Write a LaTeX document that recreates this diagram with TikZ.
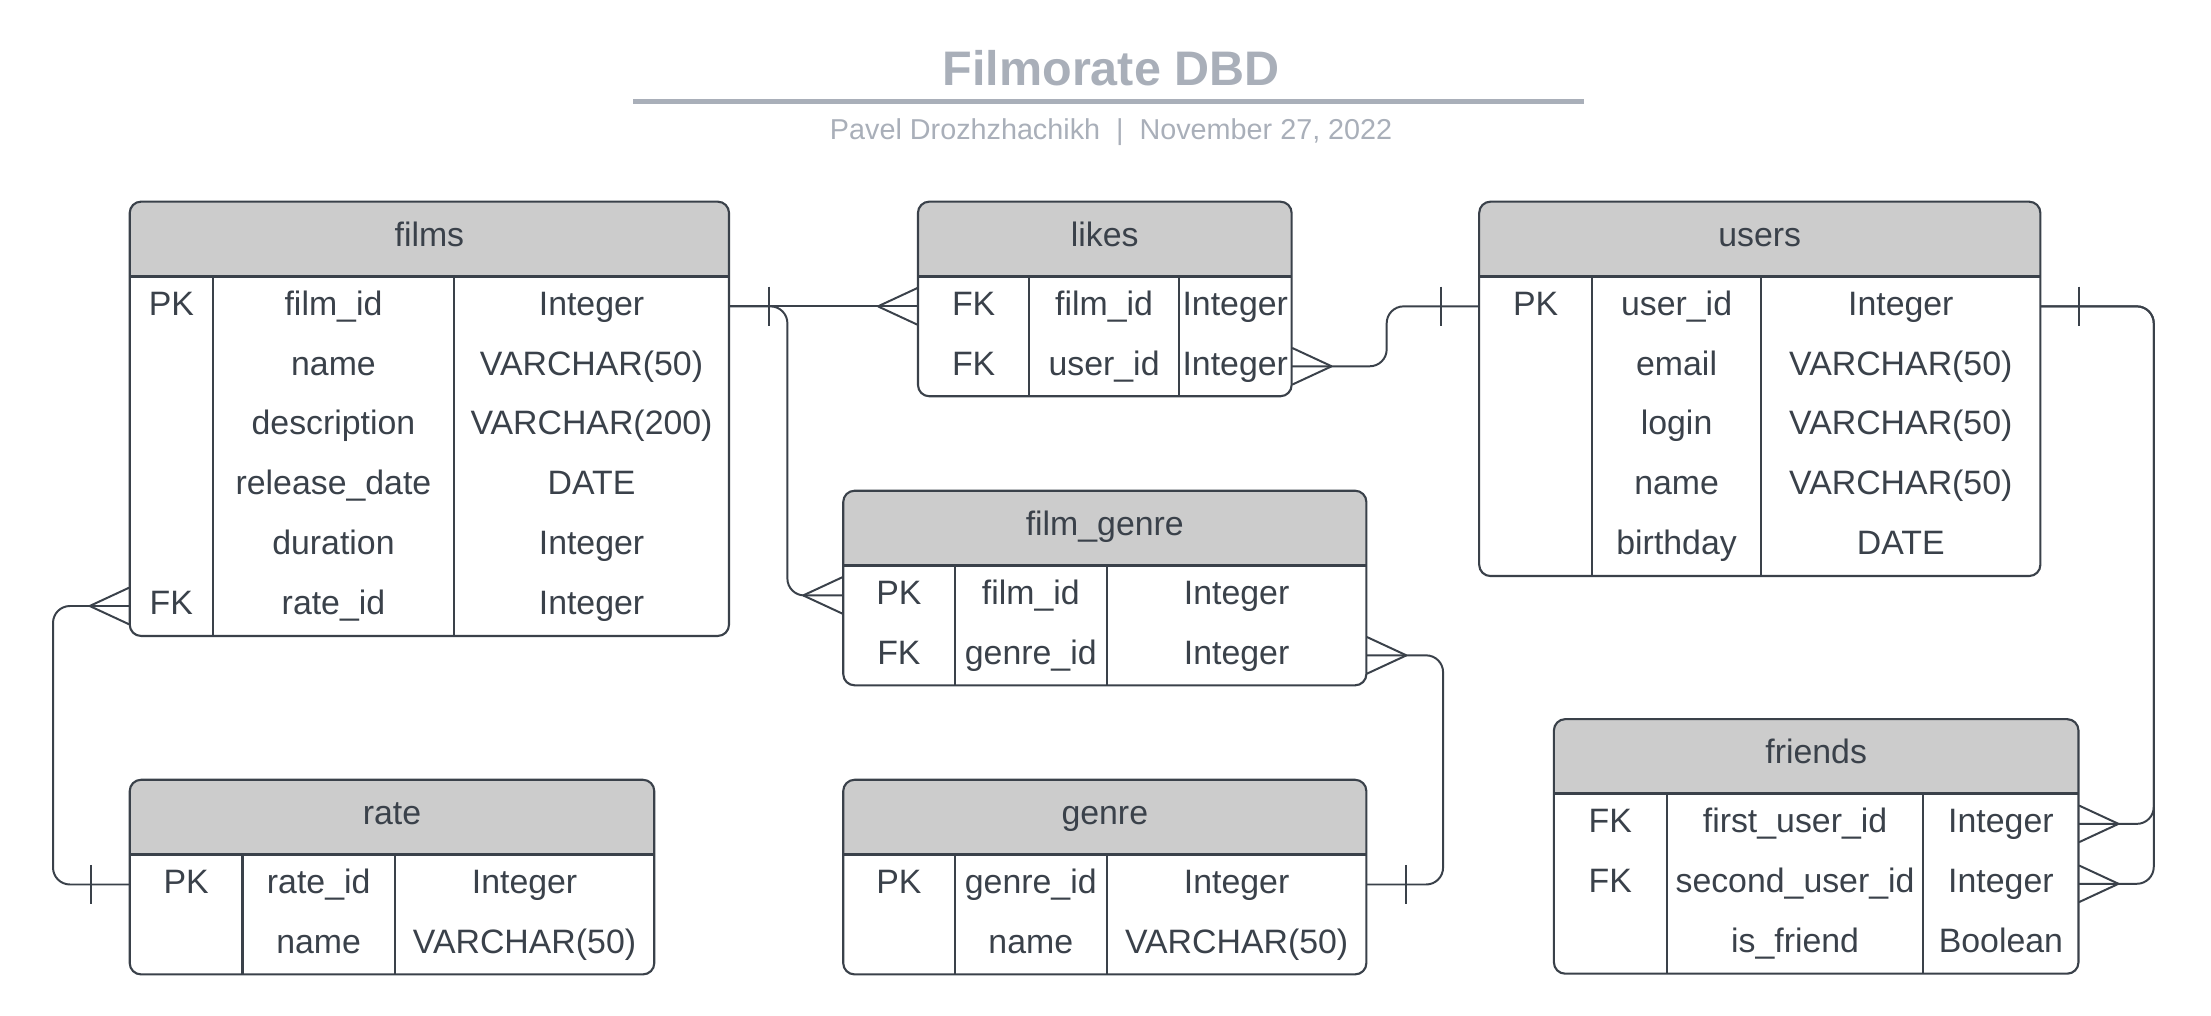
\documentclass[tikz,border=0pt]{standalone}
\usepackage{fontspec}
\setmainfont{Liberation Sans}
\definecolor{ink}{HTML}{3A414A}
\definecolor{hdrgray}{HTML}{CCCCCC}
\definecolor{titlegray}{HTML}{A9AFB9}
\begin{document}
\begin{tikzpicture}[x=0.5pt,y=-0.5pt,
        tbl/.style={draw=ink,line width=0.75pt},
        cell/.style={inner sep=0pt,text=ink,font=\fontsize{12}{14}\selectfont,text height=8.6pt,text depth=2.4pt},
        rowbox/.style={inner sep=0pt,minimum height=21.25pt},
        link/.style={draw=ink,line width=0.7pt,rounded corners=6pt}]
        \useasboundingbox (0,0) rectangle (1568,720);
        % title block
        \node[font=\fontsize{17.2}{20}\selectfont\bfseries,text=titlegray] (title) at (788,48) {Filmorate DBD};
        \draw[titlegray,line width=1.5pt] (449,72) -- (1123,72);
        \node[font=\fontsize{10.2}{12}\selectfont,text=titlegray] (byline) at (788,94) {Pavel Drozhzhachikh\ \ |\ \ November 27, 2022};
        % tables: name / left / col1 / col2 / right / top / rows / title
        \foreach \tb/\xa/\xb/\xc/\xd/\yt/\nr/\ttl in {films/92/151/322/517/143/6/films,
                likes/651/730/836/916/143/2/likes,
                users/1049/1129/1249/1447/143/5/users,
                fgenre/598/677/785/969/348/2/film\_genre,
                rate/92/172/280/464/553/2/rate,
                genre/598/677/785/969/553/2/genre,
                friends/1102/1182/1364/1474/510/3/friends}{
            \pgfmathsetmacro\yh{\yt+53}
            \pgfmathsetmacro\yb{\yh+42.5*\nr}
            \begin{scope}
                \clip (\xa,\yt) rectangle (\xd,\yh);
                \fill[hdrgray,rounded corners=4pt] (\xa,\yt) rectangle (\xd,\yb);
            \end{scope}
            \node[cell] (\tb) at ({(\xa+\xd)/2},{\yt+25.5}) {\ttl};
            \draw[tbl,rounded corners=4pt] (\xa,\yt) rectangle (\xd,\yb);
            \draw[tbl,line width=1pt] (\xa,\yh) -- (\xd,\yh);
            \draw[tbl] (\xb,\yh) -- (\xb,\yb) (\xc,\yh) -- (\xc,\yb);
            \coordinate (\tb-c1) at ({(\xa+\xb)/2},\yh);
            \coordinate (\tb-c2) at ({(\xb+\xc)/2},\yh);
            \coordinate (\tb-c3) at ({(\xc+\xd)/2},\yh);
            \foreach \rw in {1,...,\nr}
                \node[rowbox,minimum width={(\xd-\xa)*0.5pt}] (\tb-\rw) at ({(\xa+\xd)/2},{\yh+42.5*(\rw-0.5)}) {};
        }
        % cells
        \foreach \tb/\rw/\ky/\cl/\ty in {films/1/PK/film\_id/Integer,
                films/2//name/VARCHAR(50),
                films/3//description/VARCHAR(200),
                films/4//release\_date/DATE,
                films/5//duration/Integer,
                films/6/FK/rate\_id/Integer,
                likes/1/FK/film\_id/Integer,
                likes/2/FK/user\_id/Integer,
                users/1/PK/user\_id/Integer,
                users/2//email/VARCHAR(50),
                users/3//login/VARCHAR(50),
                users/4//name/VARCHAR(50),
                users/5//birthday/DATE,
                fgenre/1/PK/film\_id/Integer,
                fgenre/2/FK/genre\_id/Integer,
                rate/1/PK/rate\_id/Integer,
                rate/2//name/VARCHAR(50),
                genre/1/PK/genre\_id/Integer,
                genre/2//name/VARCHAR(50),
                friends/1/FK/first\_user\_id/Integer,
                friends/2/FK/second\_user\_id/Integer,
                friends/3//is\_friend/Boolean}{
            \node[cell] (\tb-\rw-k) at (\tb-c1 |- \tb-\rw) {\ky};
            \node[cell] (\tb-\rw-n) at (\tb-c2 |- \tb-\rw) {\cl};
            \node[cell] (\tb-\rw-t) at (\tb-c3 |- \tb-\rw) {\ty};
        }
        % relations
        \draw[link] (films-1.east) -- (likes-1.west);
        \draw[link] (films-1.east) -- ++(41,0) |- (fgenre-1.west);
        \draw[link] (likes-2.east) -- ++(67,0) |- (users-1.west);
        \draw[link] (users-1.east) -- ++(80,0) |- (friends-1.east);
        \draw[link] (users-1.east) -- ++(80,0) |- (friends-2.east);
        \draw[link] (films-6.west) -- ++(-54,0) |- (rate-1.west);
        \draw[link] (fgenre-2.east) -- ++(54,0) |- (genre-1.east);
        % crow's feet (many)
        \foreach \a/\d in {likes-1.west/-28,fgenre-1.west/-28,films-6.west/-28,
                likes-2.east/28,fgenre-2.east/28,friends-1.east/28,friends-2.east/28}
            \draw[link,shift={(\a)}] (\d,0) -- (0,-13) (\d,0) -- (0,13);
        % bars (one)
        \foreach \a/\d in {films-1.east/28,users-1.west/-27,users-1.east/27,rate-1.west/-27,genre-1.east/28}
            \draw[link,shift={(\a)}] (\d,-14) -- (\d,14);
    \end{tikzpicture}
\end{document}
